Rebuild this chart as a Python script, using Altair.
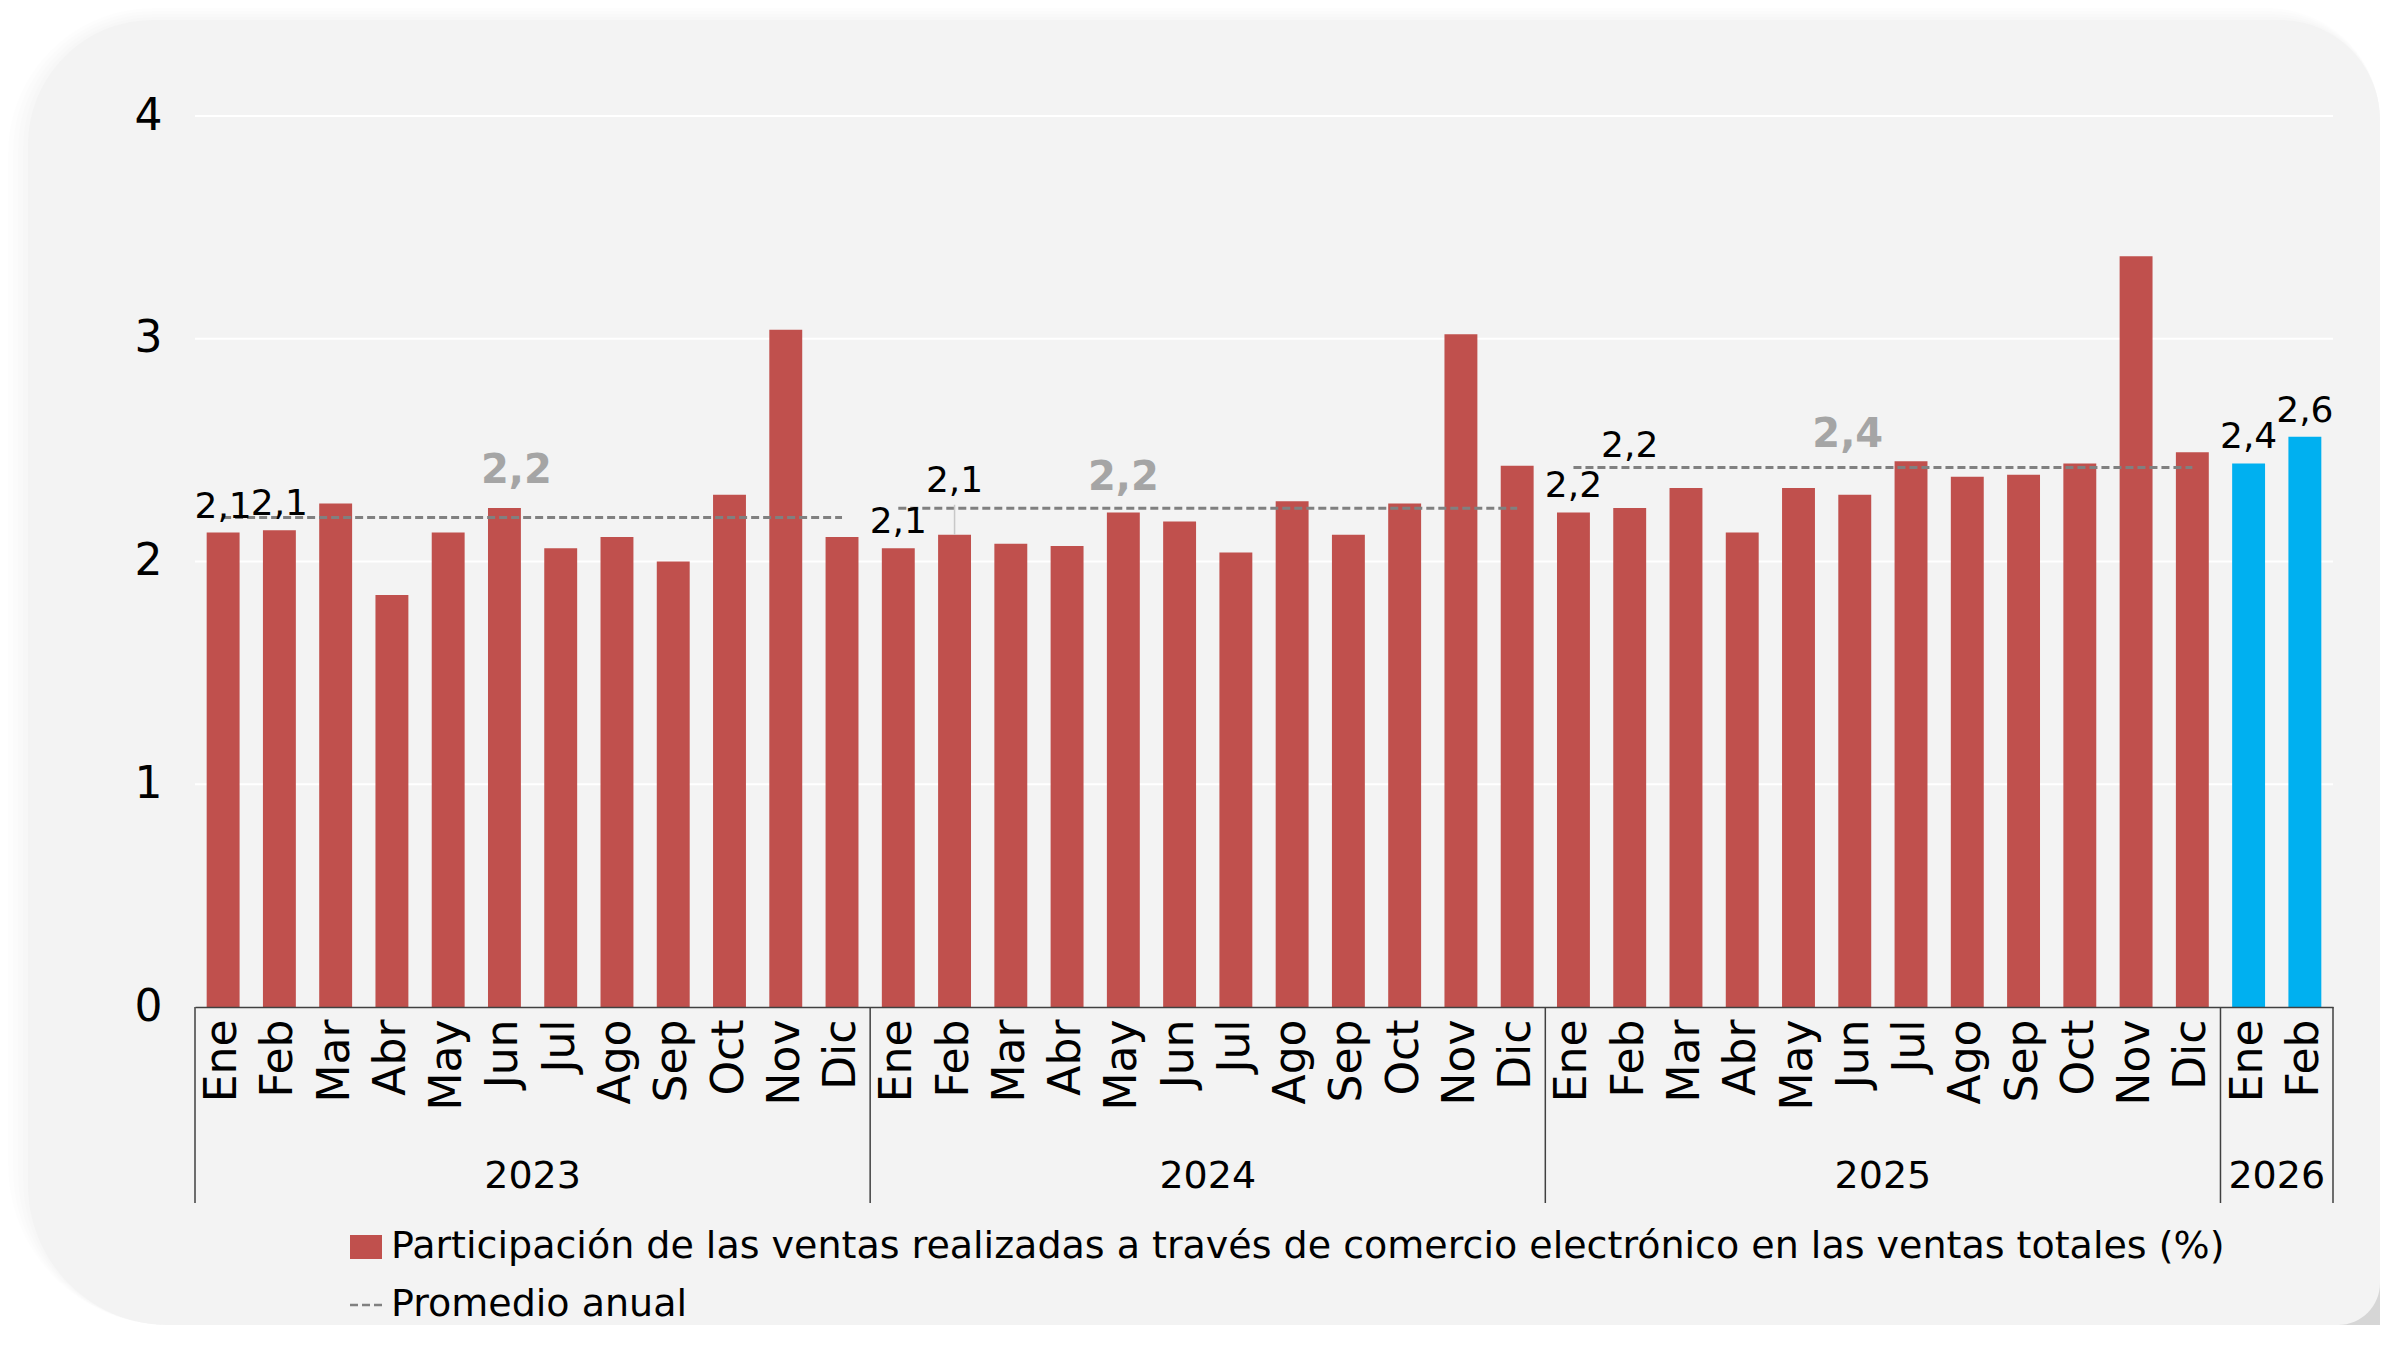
import altair as alt
import pandas as pd

# ---------------- data ----------------
meses = ["Ene", "Feb", "Mar", "Abr", "May", "Jun", "Jul", "Ago", "Sep", "Oct", "Nov", "Dic"]
anios = ["2023", "2024", "2025", "2026"]
valores_2023 = [2.13, 2.14, 2.26, 1.85, 2.13, 2.24, 2.06, 2.11, 2.00, 2.30, 3.04, 2.11]
valores_2024 = [2.06, 2.12, 2.08, 2.07, 2.22, 2.18, 2.04, 2.27, 2.12, 2.26, 3.02, 2.43]
valores_2025 = [2.22, 2.24, 2.33, 2.13, 2.33, 2.30, 2.45, 2.38, 2.39, 2.44, 3.37, 2.49]
valores_2026 = [2.44, 2.56]
y_ticks = [0, 1, 2, 3, 4]

S1 = "Participación de las ventas realizadas a través de comercio electrónico en las ventas totales (%)"
S2 = "2026 (resaltado)"
PROM = "Promedio anual"

serie_por_anio = {"2023": valores_2023, "2024": valores_2024, "2025": valores_2025, "2026": valores_2026}

rows = []
for a in anios:
    for i, v in enumerate(serie_por_anio[a]):
        rows.append({"key": f"{a}-{i+1:02d}-{meses[i]}", "anio": a, "mes": meses[i],
                     "valor": v, "serie": S2 if a == "2026" else S1, "pos": i})
df = pd.DataFrame(rows)
keys = list(df["key"])

# annual averages (complete years)
avg_rows = []
for a in ["2023", "2024", "2025"]:
    vals = serie_por_anio[a]
    avg_rows.append({"anio": a, "ini": f"{a}-01-Ene", "fin": f"{a}-12-Dic",
                     "prom": sum(vals) / len(vals), "tipo": PROM})
df_avg = pd.DataFrame(avg_rows)

# year groups
grp_rows = []
for a in anios:
    n = len(serie_por_anio[a])
    mid = n // 2 - 1
    grp_rows.append({"anio": a, "first": f"{a}-01-Ene", "mid": f"{a}-{mid+1:02d}-{meses[mid]}"})
df_grp = pd.DataFrame(grp_rows)
df_end = pd.DataFrame({"last": [keys[-1]]})
df_grid = pd.DataFrame({"valor": y_ticks[1:]})
df_one = pd.DataFrame({"d": [0]})

# ---------------- style ----------------
W, H = 2138, 891
RED, BLUE, GRAY = "#C0504D", "#00B0F0", "#808080"
FONT = "DejaVu Sans"
fmt = "replace(format(datum.{f}, '.1f'), '.', ',')"

# labelled bars: (year, month index) -> lift in px (callouts higher)
label_lift = {("2023", 0): 15, ("2023", 1): 15, ("2024", 0): 15, ("2024", 1): 43,
              ("2025", 0): 15, ("2025", 1): 51, ("2026", 0): 15, ("2026", 1): 15}
# average label placement: year -> (month index, dx, dy)
avg_label_pos = {"2023": (5, 12, -35), "2024": (4, 0, -18), "2025": (5, -7, -20)}

x_scale = alt.Scale(domain=keys, paddingInner=0, paddingOuter=0)
y_scale = alt.Scale(domain=[0, 4], nice=False)

x_axis = alt.Axis(title=None, labelExpr="split(datum.value, '-')[2]", labelAngle=270,
                  labelAlign="right", labelBaseline="middle", labelPadding=12,
                  labelFontSize=44, labelColor="black", labelOverlap=False, labelBound=False,
                  ticks=False, domain=True, domainColor="#404040", domainWidth=1.5,
                  grid=False, zindex=1)
y_axis = alt.Axis(title=None, values=y_ticks, format="d", labelFontSize=44, labelColor="black",
                  labelPadding=33, ticks=False, domain=False, grid=False, zindex=1)

# ---------------- card background ----------------
CARD_R = 2185
CARD_B = 1209
card_layers = []
for k in range(4, 0, -1):
    card_layers.append(
        alt.Chart(df_one).mark_rect(color="#000000", opacity=0.008,
                                    cornerRadiusTopLeft=125 + 5 * k, cornerRadiusTopRight=100 + 3 * k,
                                    cornerRadiusBottomLeft=140 + 5 * k)
        .encode(x=alt.value(-167 - 5 * k), x2=alt.value(CARD_R), y=alt.value(-96 - 3 * k), y2=alt.value(CARD_B))
    )
corner_shade = alt.Chart(df_one).mark_rect(color="#D6D6D6").encode(
    x=alt.value(CARD_R - 60), x2=alt.value(CARD_R), y=alt.value(CARD_B - 60), y2=alt.value(CARD_B))
card = alt.Chart(df_one).mark_rect(color="#F3F3F3", cornerRadiusTopLeft=125, cornerRadiusTopRight=100,
                                   cornerRadiusBottomLeft=140, cornerRadiusBottomRight=42).encode(
    x=alt.value(-167), x2=alt.value(CARD_R), y=alt.value(-96), y2=alt.value(CARD_B))

grid = alt.Chart(df_grid).mark_rule(color="white", strokeWidth=2).encode(
    y=alt.Y("valor:Q", scale=y_scale, axis=y_axis), x=alt.value(0), x2=alt.value(W))

# ---------------- bars ----------------
bars = alt.Chart(df).mark_bar(width=alt.RelativeBandSize(0.585)).encode(
    x=alt.X("key:N", scale=x_scale, axis=x_axis, sort=keys),
    y=alt.Y("valor:Q", scale=y_scale, axis=y_axis),
    color=alt.Color("serie:N", scale=alt.Scale(domain=[S1, S2], range=[RED, BLUE]),
                    legend=alt.Legend(title=None, values=[S1], orient="none", legendX=152, legendY=1112,
                                      symbolType="M-1,-0.75H1V0.75H-1Z", symbolSize=1024,
                                      symbolStrokeWidth=0, labelFontSize=38, labelFont=FONT,
                                      labelColor="black", labelLimit=4000, labelOffset=6, padding=0)),
)

# ---------------- averages ----------------
avg_lines = alt.Chart(df_avg).mark_rule(color=GRAY, strokeWidth=3).encode(
    x=alt.X("ini:N", scale=x_scale), x2="fin:N",
    y=alt.Y("prom:Q", scale=y_scale),
    strokeDash=alt.StrokeDash("tipo:N", scale=alt.Scale(domain=[PROM], range=[[8, 4]]),
                              legend=alt.Legend(title=None, orient="none", legendX=152, legendY=1170,
                                                symbolType="stroke", symbolSize=1024,
                                                symbolStrokeColor=GRAY, symbolStrokeWidth=2.5,
                                                labelFontSize=38, labelFont=FONT, labelColor="black",
                                                labelLimit=4000, labelOffset=6, padding=0)),
)

avg_labels = []
for a, (mi, dx, dy) in avg_label_pos.items():
    k = f"{a}-{mi+1:02d}-{meses[mi]}"
    avg_labels.append(
        alt.Chart(df_avg).transform_filter(alt.datum.anio == a)
        .transform_calculate(lbl=fmt.format(f="prom"), k=f"'{k}'")
        .mark_text(fontSize=40, fontWeight="bold", color="#A5A5A5", baseline="alphabetic",
                   align="center", dx=dx, dy=dy)
        .encode(x=alt.X("k:N", scale=x_scale), y=alt.Y("prom:Q", scale=y_scale), text="lbl:N")
    )

# ---------------- data labels ----------------
lab_layers = []
for lift in sorted(set(label_lift.values())):
    sel = [f"{a}-{i+1:02d}-{meses[i]}" for (a, i), l in label_lift.items() if l == lift]
    lab_layers.append(
        alt.Chart(df).transform_filter(alt.FieldOneOfPredicate(field="key", oneOf=sel))
        .transform_calculate(lbl=fmt.format(f="valor"))
        .mark_text(fontSize=36, color="black", baseline="alphabetic", align="center", dy=-lift)
        .encode(x=alt.X("key:N", scale=x_scale), y=alt.Y("valor:Q", scale=y_scale), text="lbl:N")
    )
leader = alt.Chart(df).transform_filter(alt.datum.key == "2024-02-Feb").mark_rule(
    color="#C8C8C8", strokeWidth=1.5, y2Offset=-30).encode(
    x=alt.X("key:N", scale=x_scale), y=alt.Y("valor:Q", scale=y_scale), y2=alt.Y2("valor:Q"))

# ---------------- year groups ----------------
sep = alt.Chart(df_grp).mark_rule(color="#404040", strokeWidth=1.5).encode(
    x=alt.X("first:N", scale=x_scale, bandPosition=0), y=alt.value(H), y2=alt.value(H + 196))
sep_end = alt.Chart(df_end).mark_rule(color="#404040", strokeWidth=1.5).encode(
    x=alt.X("last:N", scale=x_scale, bandPosition=1), y=alt.value(H), y2=alt.value(H + 196))
years = alt.Chart(df_grp).mark_text(fontSize=38, color="black", baseline="middle", align="center").encode(
    x=alt.X("mid:N", scale=x_scale, bandPosition=1), y=alt.value(H + 170), text="anio:N")

chart = alt.layer(
    *card_layers, corner_shade, card, grid, bars, avg_lines, leader, *lab_layers, *avg_labels,
    sep, sep_end, years
).properties(width=W, height=H, padding=0).configure(
    font=FONT, background="white"
).configure_view(stroke=None)

chart.save("out.html", embed_options={"renderer": "svg", "actions": False})
